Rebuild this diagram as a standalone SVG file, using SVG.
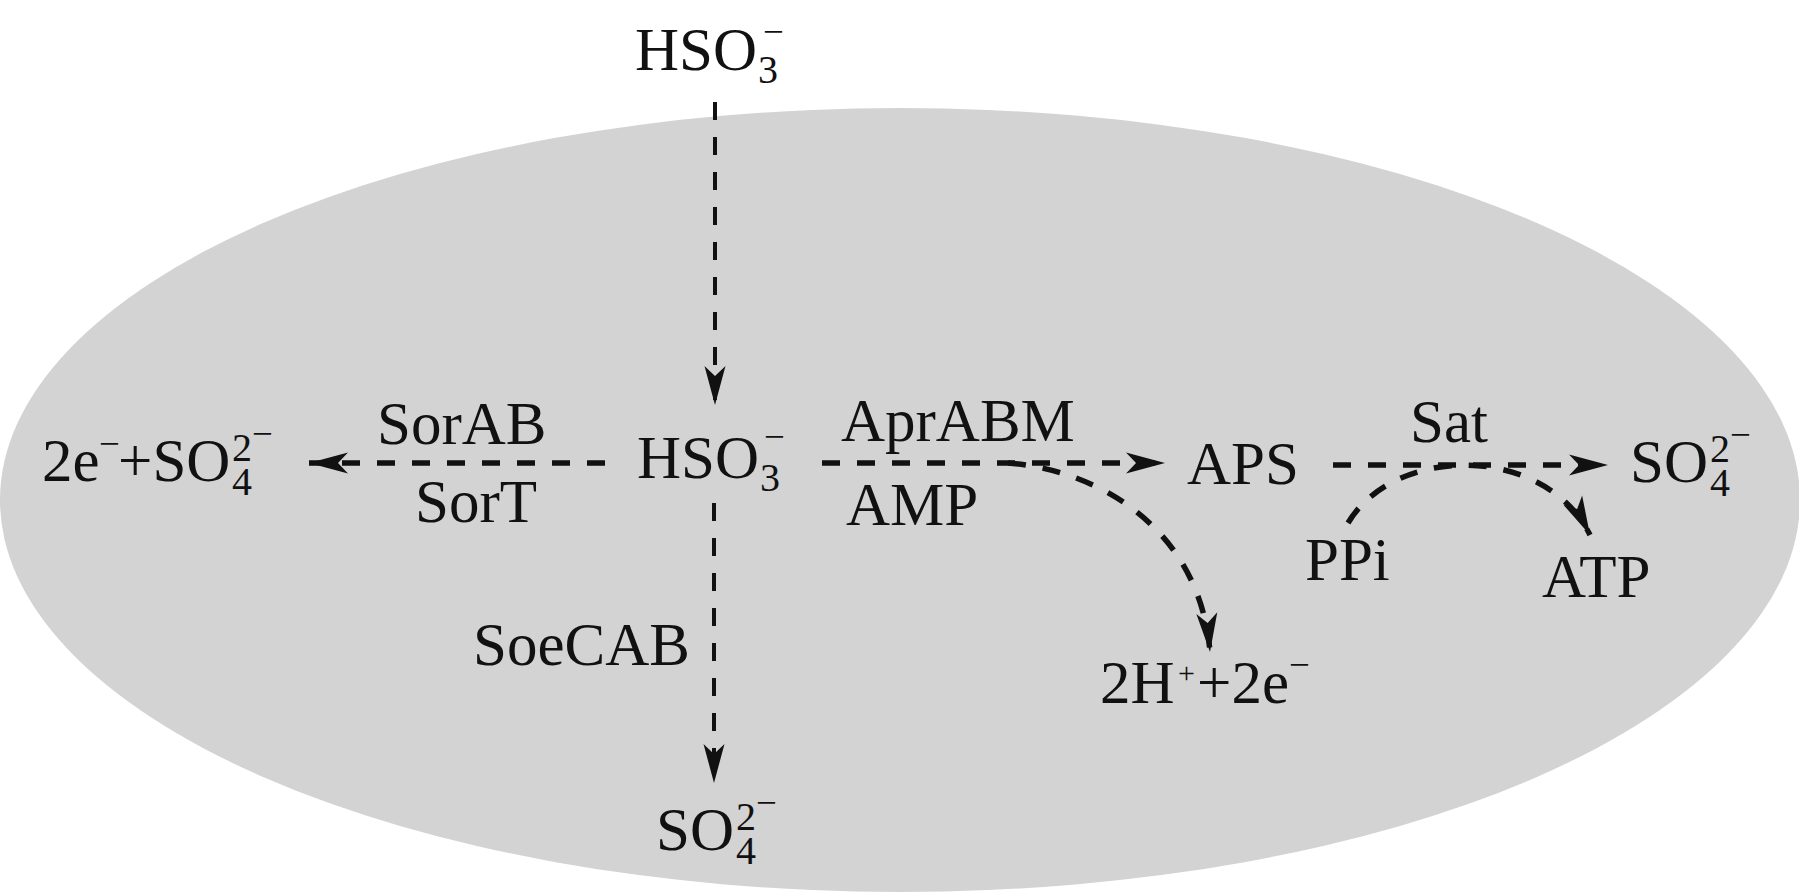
<svg xmlns="http://www.w3.org/2000/svg" width="1799" height="893" viewBox="0 0 1799 893">
<style>
text{font-family:"Liberation Serif","Times New Roman",serif;fill:#111;}
.m{font-size:61px;}
.s{font-size:40px;}
.n{font-size:37px;}
.p{font-size:30px;}
.dh{fill:none;stroke:#111;stroke-width:5.5;stroke-dasharray:18 17;}
.dv{fill:none;stroke:#111;stroke-width:4;stroke-dasharray:18 17;}
</style>
<defs>
<marker id="ah" markerUnits="userSpaceOnUse" markerWidth="42" markerHeight="26" viewBox="-40 -13 42 26" refX="0" refY="0" orient="auto">
<path d="M0,0 L-39,-10.5 L-29,0 L-39,10.5 Z" fill="#111"/>
</marker>
</defs>
<rect width="1799" height="893" fill="#fff"/>
<ellipse id="cell" cx="900" cy="500" rx="900" ry="392" fill="#d3d3d3"/>
<g id="connectors">
<path class="dv" d="M715,102 L715,405" marker-end="url(#ah)"/>
<path class="dv" d="M714,503 L714,783" marker-end="url(#ah)"/>
<path class="dh" d="M605,463 L309,463" marker-end="url(#ah)"/>
<path class="dh" d="M822,463 L1165,463" marker-end="url(#ah)"/>
<path class="dh" d="M1333,465 L1608,465" marker-end="url(#ah)"/>
<path class="dh" d="M1008,463 C1100,470 1200,530 1210,652" marker-end="url(#ah)"/>
<path class="dh" d="M1348,523 C1395,444 1545,444 1590,535" marker-end="url(#ah)"/>
</g>
<g id="hso3_top">
<text class="m" x="635" y="70">HSO</text>
<text class="s" x="758" y="83">3</text>
<text class="n" x="763" y="44">−</text>
</g>
<g id="hso3_mid">
<text class="m" x="637" y="478">HSO</text>
<text class="s" x="760" y="491">3</text>
<text class="n" x="764" y="449">−</text>
</g>
<g id="left_product">
<text class="m" x="42" y="481">2e</text>
<text class="n" x="99" y="456">−</text>
<text class="m" x="118" y="481">+SO</text>
<text class="s" x="232" y="495">4</text>
<text class="s" x="232" y="461">2</text>
<text class="n" x="252" y="446">−</text>
</g>
<g id="sorab"><text class="m" x="377" y="444">SorAB</text></g>
<g id="sort"><text class="m" x="415" y="522">SorT</text></g>
<g id="aprabm"><text class="m" x="841" y="441">AprABM</text></g>
<g id="amp"><text class="m" x="846" y="525">AMP</text></g>
<g id="aps"><text class="m" x="1187" y="484">APS</text></g>
<g id="sat"><text class="m" x="1410" y="442">Sat</text></g>
<g id="so4_right">
<text class="m" x="1630" y="482">SO</text>
<text class="s" x="1710" y="496">4</text>
<text class="s" x="1710" y="462">2</text>
<text class="n" x="1730" y="447">−</text>
</g>
<g id="ppi"><text class="m" x="1305" y="580">PPi</text></g>
<g id="atp"><text class="m" x="1542" y="597">ATP</text></g>
<g id="soecab"><text class="m" x="473" y="665">SoeCAB</text></g>
<g id="h_e">
<text class="m" x="1100" y="703">2H</text>
<text class="p" x="1178" y="683">+</text>
<text class="m" x="1197" y="703">+2e</text>
<text class="n" x="1289" y="677">−</text>
</g>
<g id="so4_bottom">
<text class="m" x="656" y="850">SO</text>
<text class="s" x="736" y="864">4</text>
<text class="s" x="736" y="830">2</text>
<text class="n" x="756" y="815">−</text>
</g>
</svg>
